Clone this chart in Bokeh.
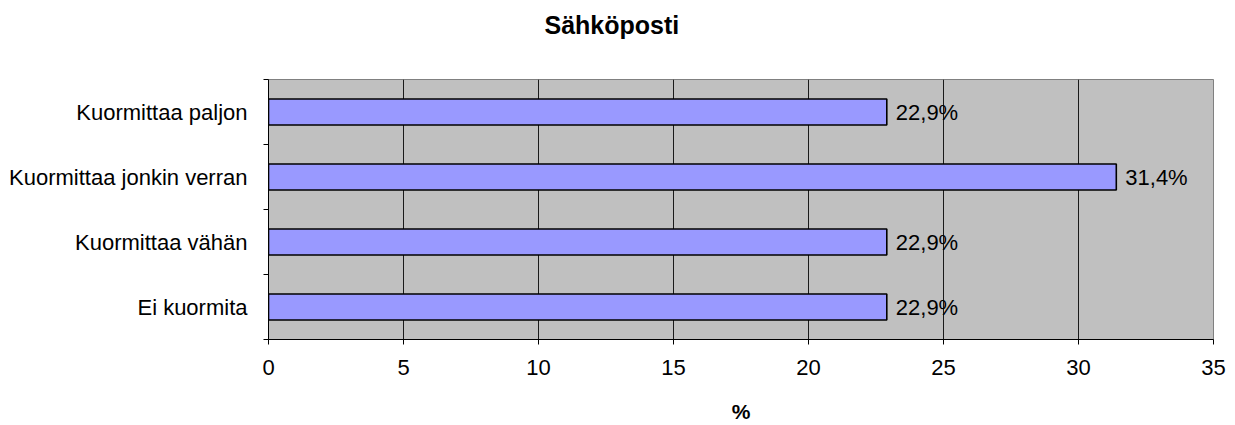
from bokeh.plotting import figure
from bokeh.models import ColumnDataSource, FixedTicker, Range1d, Title
from bokeh.core.properties import value
from bokeh.embed import file_html
from bokeh.resources import INLINE

# Survey answers, listed bottom to top
categories = ["Ei kuormita", "Kuormittaa vähän", "Kuormittaa jonkin verran", "Kuormittaa paljon"]
shares = [22.9, 22.9, 31.4, 22.9]
x_ticks = [0, 5, 10, 15, 20, 25, 30, 35]
chart_title = "Sähköposti"

FONT = "Liberation Sans"

ypos = [i + 0.5 for i in range(len(categories))]
labels = [f"{v:.1f}".replace(".", ",") + "%" for v in shares]
src = ColumnDataSource(data=dict(y=ypos, share=shares, label=labels))

p = figure(
    width=1235, height=425,
    x_range=Range1d(0, 35), y_range=Range1d(0, len(categories)),
    output_backend="svg", toolbar_location=None,
    min_border_left=268, min_border_right=22,
    min_border_top=79, min_border_bottom=86,
    title=chart_title,
)

p.background_fill_color = "#C0C0C0"
p.border_fill_color = "white"
p.outline_line_color = "#808080"
p.outline_line_width = 1

# blank spacer between frame and title, so the title sits near the top edge
p.add_layout(Title(text=" ", text_font_size="10px", standoff=21), "above")

# title centred on the whole page rather than on the frame
p.title.align = "left"
p.title.offset = 276
p.title.text_font = FONT
p.title.text_font_size = "25px"
p.title.text_font_style = "bold"
p.title.text_color = "black"
p.title.standoff = 14

# vertical grid at every 5 %
p.xgrid.ticker = FixedTicker(ticks=x_ticks[1:-1])
p.xgrid.grid_line_color = "#1a1a1a"
p.xgrid.grid_line_width = 1
p.ygrid.grid_line_color = None

p.hbar(y="y", left=0, right="share", height=0.4, source=src,
       fill_color="#9999FF", line_color="black", line_width=1.6)

p.text(x="share", y="y", text="label", source=src, x_offset=9,
       text_baseline="middle", text_align="left",
       text_font=value(FONT), text_font_size="22px", text_color="black")

# x axis
xa = p.xaxis[0]
xa.ticker = FixedTicker(ticks=x_ticks)
xa.axis_line_color = "black"
xa.axis_line_width = 1
xa.major_tick_out = 5
xa.major_tick_in = 0
xa.major_tick_line_color = "black"
xa.minor_tick_line_color = None
xa.major_label_text_font = FONT
xa.major_label_text_font_size = "22px"
xa.major_label_text_color = "black"
xa.major_label_standoff = 15
xa.axis_label = "%"
xa.axis_label_text_font = FONT
xa.axis_label_text_font_size = "21px"
xa.axis_label_text_font_style = "bold"
xa.axis_label_text_color = "black"
xa.axis_label_standoff = 22

# y axis: labels at band centres, ticks at band edges
ya = p.yaxis[0]
ya.ticker = FixedTicker(ticks=ypos, minor_ticks=list(range(len(categories) + 1)))
ya.major_label_overrides = {y: c for y, c in zip(ypos, categories)}
ya.axis_line_color = "black"
ya.axis_line_width = 1
ya.major_tick_out = 0
ya.major_tick_in = 0
ya.minor_tick_out = 5
ya.minor_tick_in = 0
ya.minor_tick_line_color = "black"
ya.major_label_text_font = FONT
ya.major_label_text_font_size = "22px"
ya.major_label_text_color = "black"
ya.major_label_standoff = 16

open("out.html", "w").write(file_html(p, INLINE))
